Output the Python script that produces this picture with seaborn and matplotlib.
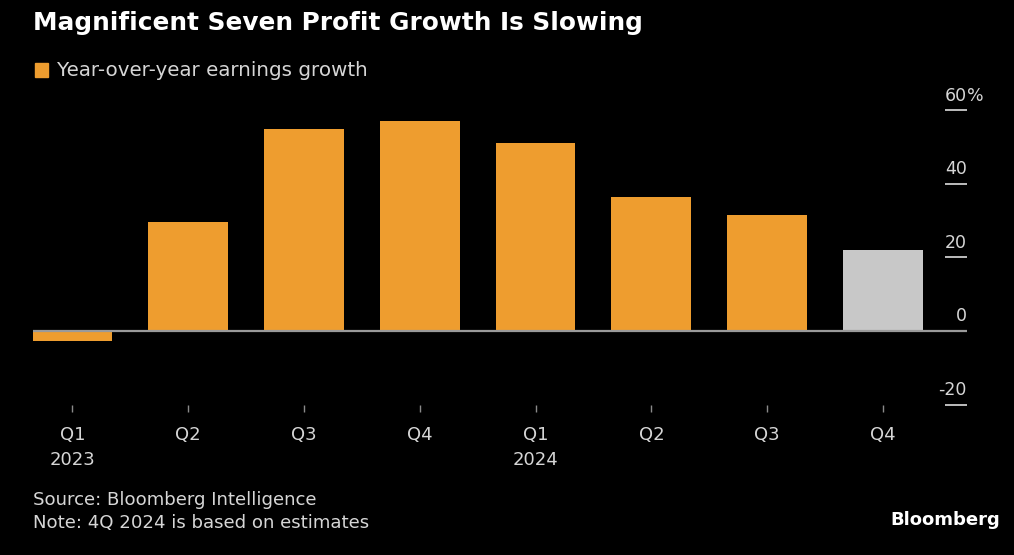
import matplotlib
matplotlib.use('Agg')
import matplotlib.pyplot as plt
import seaborn as sns
import pandas as pd

# data
quarters = ['Q1\n2023', 'Q2', 'Q3', 'Q4', 'Q1\n2024', 'Q2', 'Q3', 'Q4']
growth = [-2.7, 29.6, 54.9, 57.1, 51.1, 36.4, 31.5, 22.0]
is_estimate = [False, False, False, False, False, False, False, True]
y_ticks = [-20, 0, 20, 40, 60]

ORANGE = '#EE9D2F'
GREY_BAR = '#C8C8C8'
TXT = '#D6D6D6'

sns.set_theme(style='dark')
plt.rcParams['font.family'] = ['DejaVu Sans']

df = pd.DataFrame({
    'pos': [str(i) for i in range(len(quarters))],
    'growth': growth,
    'kind': ['est' if e else 'act' for e in is_estimate],
})

fig = plt.figure(figsize=(10.14, 5.55), dpi=100, facecolor='black')
ax = fig.add_axes([0.0325, 0.2577, 0.9211, 0.5703])
ax.set_facecolor('black')

sns.barplot(data=df, x='pos', y='growth', hue='kind',
            palette={'act': ORANGE, 'est': GREY_BAR},
            width=0.69, dodge=False, legend=False, saturation=1,
            linewidth=0, ax=ax)

ax.set_xlim(-0.341, 7.726)
ax.set_ylim(-22, 64)
ax.axhline(0, color='#9A9A9A', lw=1.6, zorder=3)

for s in ax.spines.values():
    s.set_visible(False)
ax.grid(False)
ax.set_xlabel('')
ax.set_ylabel('')

# x ticks
ax.set_xticks(range(len(quarters)))
ax.set_xticklabels(quarters, color=TXT, fontsize=13, linespacing=1.5)
ax.tick_params(axis='x', direction='in', length=5, width=1, color='#8A8A8A',
               pad=10, bottom=True)

# y ticks on the right, labels sitting above short lines
ax.yaxis.tick_right()
ax.set_yticks(y_ticks)
ax.tick_params(axis='y', direction='in', length=16, width=1.4, color='#BDBDBD',
               right=True, labelright=False, left=False, labelleft=False)
for v in y_ticks:
    ax.annotate(str(v), xy=(1.0, v), xycoords=('axes fraction', 'data'),
                xytext=(0, 4), textcoords='offset points',
                ha='right', va='bottom', color=TXT, fontsize=12.5)
ax.annotate('%', xy=(1.0, y_ticks[-1]), xycoords=('axes fraction', 'data'),
            xytext=(0, 4), textcoords='offset points',
            ha='left', va='bottom', color=TXT, fontsize=12.5)

# title, legend, footer
fig.text(33 / 1014, 1 - 23 / 555, 'Magnificent Seven Profit Growth Is Slowing',
         color='white', fontsize=17.8, fontweight='bold', va='center', ha='left')
fig.patches.append(plt.Rectangle((35 / 1014, 1 - 77 / 555), 13 / 1014, 14 / 555,
                                 transform=fig.transFigure, color=ORANGE))
fig.text(57 / 1014, 1 - 70 / 555, 'Year-over-year earnings growth',
         color=TXT, fontsize=14.3, va='center', ha='left')
fig.text(33 / 1014, 1 - 500 / 555, 'Source: Bloomberg Intelligence',
         color=TXT, fontsize=13.1, va='center', ha='left')
fig.text(33 / 1014, 1 - 523 / 555, 'Note: 4Q 2024 is based on estimates',
         color=TXT, fontsize=13.1, va='center', ha='left')
fig.text(1000 / 1014, 1 - 520 / 555, 'Bloomberg',
         color='white', fontsize=13, fontweight='bold', va='center', ha='right')

fig.savefig('out.png', dpi=100, facecolor='black')
